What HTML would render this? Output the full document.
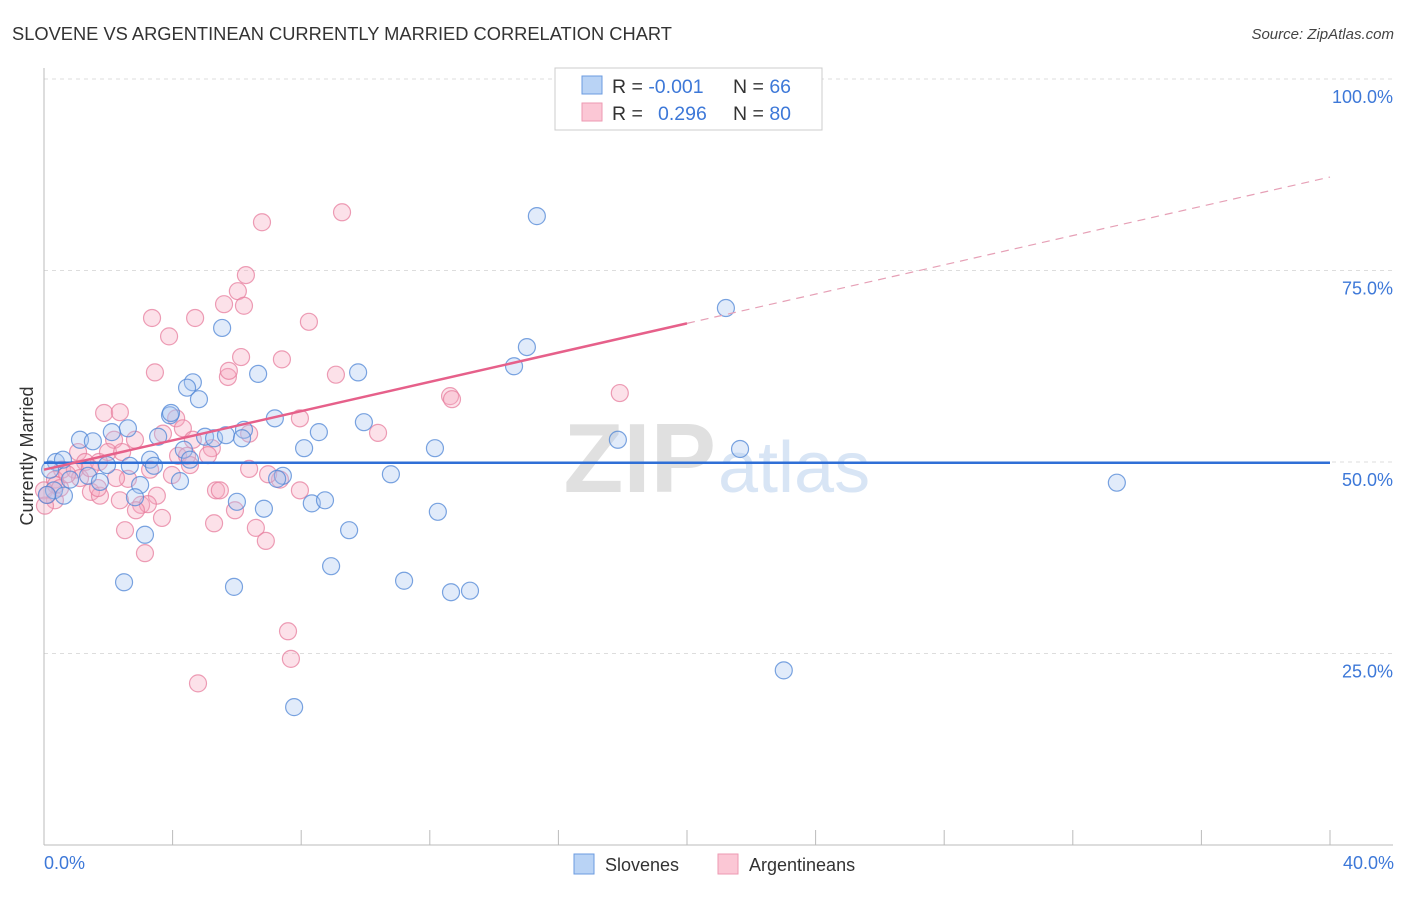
<!DOCTYPE html>
<html><head><meta charset="utf-8"><style>
body{margin:0;background:#fff;font-family:"Liberation Sans",sans-serif;}
svg text{font-family:"Liberation Sans",sans-serif;}
</style></head><body>
<svg id="chart" width="1406" height="892" xmlns="http://www.w3.org/2000/svg">
<text x="12" y="40" font-size="18.3" fill="#333">SLOVENE VS ARGENTINEAN CURRENTLY MARRIED CORRELATION CHART</text>
<text x="1394" y="39" font-size="15" fill="#444" text-anchor="end" font-style="italic">Source: ZipAtlas.com</text>
<text x="716" y="492" font-size="98" fill="#e0e0e0" text-anchor="end" font-family="Liberation Serif" font-weight="bold">ZIP</text>
<text x="718" y="492" font-size="72" fill="#d8e5f5">atlas</text>
<g id="grid"></g><g id="axes"></g><g id="marks"></g>
<text transform="translate(33,456) rotate(-90)" font-size="18" fill="#333" text-anchor="middle">Currently Married</text>
<text x="44" y="869" font-size="18" fill="#3d78d8">0.0%</text>
<text x="1394" y="869" font-size="18" fill="#3d78d8" text-anchor="end">40.0%</text>
<g>
<rect x="555" y="68" width="267" height="62" fill="#fff" stroke="#ccc"/>
<rect x="582" y="76" width="20" height="18" fill="#b9d3f5" stroke="#6b9be0"/>
<rect x="582" y="103" width="20" height="18" fill="#fbc7d5" stroke="#ee9ab2"/>
<text x="612" y="93" font-size="19.5" fill="#333">R = <tspan fill="#3d78d8">-0.001</tspan><tspan x="733">N = </tspan><tspan fill="#3d78d8">66</tspan></text>
<text x="612" y="120" font-size="19.5" fill="#333">R = <tspan x="658" fill="#3d78d8">0.296</tspan><tspan x="733">N = </tspan><tspan fill="#3d78d8">80</tspan></text>
</g>
<g>
<rect x="574" y="854" width="20" height="20" fill="#b9d3f5" stroke="#6b9be0"/>
<text x="605" y="871" font-size="18" fill="#333">Slovenes</text>
<rect x="718" y="854" width="20" height="20" fill="#fbc7d5" stroke="#ee9ab2"/>
<text x="749" y="871" font-size="18" fill="#333">Argentineans</text>
</g>
</svg>
<script>
const xTicks=[4,8,12,16,20,24,28,32,36,40];
const yTicks=[25,50,75,100];
const yTickLabels=["25.0%","50.0%","75.0%","100.0%"];
const blueX=[15.33,21.21,15.02,14.62,9.77,6.66,4.63,4.45,4.82,5.54,3.92,9.95,7.18,2.61,2.11,1.12,1.52,3.55,5.01,5.29,5.66,6.22,6.16,8.55,8.09,12.16,17.85,21.65,0.37,0.59,3.30,3.42,1.96,2.67,10.79,7.43,7.25,1.37,1.74,2.99,4.23,0.31,0.62,2.83,6.00,8.33,8.74,6.84,12.25,9.49,3.14,8.93,11.20,2.49,5.91,12.66,13.25,23.01,7.78,33.37,4.35,3.95,0.19,0.09,0.81,4.54];
const blueY=[82.1,70.1,65.0,62.5,61.7,61.5,60.4,59.7,58.2,67.5,56.1,55.2,55.7,54.4,53.9,52.9,52.7,53.3,53.3,53.1,53.5,54.2,53.1,53.9,51.8,51.8,52.9,51.7,50.0,50.3,50.3,49.5,49.6,49.5,48.4,48.2,47.8,48.2,47.4,47.0,47.5,46.3,45.6,45.4,44.8,44.6,45.0,43.9,43.5,41.1,40.5,36.4,34.5,34.3,33.7,33.0,33.2,22.8,18.0,47.3,51.6,56.4,49.0,45.7,47.7,50.3];
const pinkX=[9.27,6.78,6.28,6.03,5.60,6.22,3.36,4.70,8.24,3.89,6.13,7.40,3.45,9.08,5.72,5.75,12.63,12.69,17.91,1.87,2.36,4.11,7.96,2.18,3.70,4.32,10.39,6.38,4.63,5.22,1.06,1.99,4.17,4.45,1.28,1.71,4.54,6.38,0.56,0.96,0.34,1.12,2.61,3.98,0.0,0.37,1.46,1.74,2.36,3.51,5.35,5.47,0.34,0.03,3.02,3.23,2.86,3.67,5.29,2.52,6.59,6.90,3.14,7.96,7.34,0.50,0.72,2.24,1.68,3.30,7.59,7.68,4.79,0.1,2.43,5.94,6.97,2.83,1.43,5.10];
const pinkY=[82.6,81.3,74.4,72.3,70.6,70.4,68.8,68.8,68.3,66.4,63.7,63.4,61.7,61.4,61.1,61.9,58.6,58.2,59.0,56.4,56.5,55.7,55.7,52.9,53.7,54.4,53.8,53.7,52.9,51.8,51.3,51.3,50.8,50.8,50.0,50.0,49.6,49.1,49.0,49.0,47.7,47.9,47.8,48.3,46.3,47.0,46.1,45.6,45.0,45.6,46.3,46.3,45.0,44.3,44.4,44.5,43.7,42.7,42.0,41.1,41.4,39.7,38.1,46.3,47.7,46.6,48.4,47.9,46.6,49.0,27.9,24.3,21.1,45.7,51.3,43.7,48.4,52.9,49.2,50.9];
const blueTrend=[49.9,0.0];
const pinkTrend=[49.0,0.955];
const pinkSolidEnd=20;

const X0=44,X1=1330,Ybot=845,Ytop=79;
const sx=v=>X0+(v/40)*(X1-X0);
const sy=v=>Ybot-(v/100)*(Ybot-Ytop);
const NS="http://www.w3.org/2000/svg";
function mk(tag,attrs,parent){const e=document.createElementNS(NS,tag);for(const k in attrs)e.setAttribute(k,attrs[k]);parent.appendChild(e);return e;}
const grid=document.getElementById('grid'),axes=document.getElementById('axes'),marks=document.getElementById('marks');
yTicks.forEach((t,i)=>{
  const l=mk('line',{x1:44,x2:1393,y1:sy(t),y2:sy(t),stroke:'#ddd','stroke-dasharray':'4,4'},grid);
  
  
  const tx=mk('text',{x:1393,y:sy(t)+24,'font-size':18,fill:'#3d78d8','text-anchor':'end'},grid);
  tx.textContent=yTickLabels[i];
  
  
});
const ax=mk('line',{x1:44,x2:44,y1:68,y2:845,stroke:'#bbb'},axes);


const bx=mk('line',{x1:44,x2:1393,y1:845,y2:845,stroke:'#bbb'},axes);


xTicks.forEach(t=>{
  const l=mk('line',{x1:sx(t),x2:sx(t),y1:830,y2:845,stroke:'#bbb'},axes);
  
  
});
function dots(xs,ys,fill,stroke,name){
  xs.forEach((x,i)=>{
    const c=mk('circle',{cx:sx(x),cy:sy(ys[i]),r:8.5,fill:fill,'fill-opacity':0.35,stroke:stroke,'stroke-width':1.2,'stroke-opacity':0.75},marks);
    
    
  });
}
dots(pinkX,pinkY,'#f5a9bf','#e77d9d','argentinean-point');
dots(blueX,blueY,'#a8c7f0','#4f86d6','slovene-point');
const bl=mk('line',{x1:sx(0),x2:sx(40),y1:sy(blueTrend[0]),y2:sy(blueTrend[0]+blueTrend[1]*40),stroke:'#2f6fd6','stroke-width':2.5},marks);


const pl=mk('line',{x1:sx(0),x2:sx(pinkSolidEnd),y1:sy(pinkTrend[0]),y2:sy(pinkTrend[0]+pinkTrend[1]*pinkSolidEnd),stroke:'#e6608a','stroke-width':2.5},marks);


const pd=mk('line',{x1:sx(pinkSolidEnd),x2:sx(40),y1:sy(pinkTrend[0]+pinkTrend[1]*pinkSolidEnd),y2:sy(pinkTrend[0]+pinkTrend[1]*40),stroke:'#e6a0b6','stroke-width':1.2,'stroke-dasharray':'8,6'},marks);


</script>
</body></html>
